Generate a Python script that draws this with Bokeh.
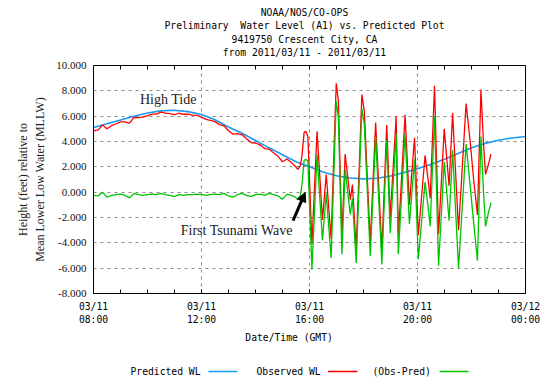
import numpy as np
from bokeh.plotting import figure
from bokeh.layouts import column
from bokeh.models import (Range1d, FixedTicker, Arrow, Label,
                          NormalHead, NumeralTickFormatter)
from bokeh.core.properties import value
from bokeh.embed import file_html
from bokeh.resources import INLINE

# ---------------- data ----------------
title_lines = ["NOAA/NOS/CO-OPS",
               "Preliminary \u00a0Water Level (A1) vs. Predicted Plot",
               "9419750 Crescent City, CA",
               "from 2011/03/11 - 2011/03/11"]

x_tick_hours = [8, 12, 16, 20, 24]
x_minor_hours = list(range(8, 25))
x_tick_labels = ["03/11\n08:00", "03/11\n12:00", "03/11\n16:00", "03/11\n20:00", "03/12\n00:00"]
y_ticks = [-8, -6, -4, -2, 0, 2, 4, 6, 8, 10]

# predicted water level, every 30 min from 08:00 to 24:00 (hours)
pred_hours = [8.0, 8.5, 9.0, 9.5, 10.0, 10.5, 11.0, 11.5, 12.0, 12.5, 13.0, 13.5,
              14.0, 14.5, 15.0, 15.5, 16.0, 16.5, 17.0, 17.5, 18.0, 18.5, 19.0,
              19.5, 20.0, 20.5, 21.0, 21.5, 22.0, 22.5, 23.0, 23.5, 24.0]
pred_wl = [5.10, 5.40, 5.70, 6.00, 6.25, 6.42, 6.47, 6.36, 6.13, 5.72, 5.15, 4.65,
           4.08, 3.50, 2.95, 2.40, 2.00, 1.60, 1.30, 1.12, 1.05, 1.10, 1.28,
           1.55, 1.85, 2.20, 2.60, 3.05, 3.50, 3.85, 4.10, 4.28, 4.40]

# observed water level and residual, 10-min steps 08:00 .. 15:20
calm_hours = [8 + i / 6 for i in range(45)]
calm_obs = [4.85, 4.90, 5.30, 5.00, 5.25, 5.40, 5.55, 5.55, 5.45, 5.90, 5.88, 5.92,
            6.05, 6.16, 6.16, 6.32, 6.24, 6.20, 6.12, 6.23, 6.15, 6.16, 6.08, 6.06,
            5.93, 5.75, 5.66, 5.57, 5.33, 5.24, 4.85, 4.58, 4.62, 4.55, 4.21, 3.92,
            3.88, 3.74, 3.44, 3.40, 3.12, 2.83, 2.40, 2.62, 2.33]
calm_res = [-0.25, -0.30, 0.00, -0.40, -0.25, -0.20, -0.15, -0.25, -0.45, -0.10,
            -0.20, -0.25, -0.20, -0.15, -0.20, -0.10, -0.20, -0.25, -0.35, -0.20,
            -0.25, -0.20, -0.20, -0.15, -0.20, -0.25, -0.20, -0.15, -0.20, -0.10,
            -0.30, -0.40, -0.20, -0.10, -0.25, -0.35, -0.20, -0.15, -0.25, -0.10,
            -0.20, -0.30, -0.55, -0.15, -0.25]

# tsunami section: turning points (hours, observed, obs-pred)
wave_hours = [15.47, 15.57, 15.66, 15.72, 15.80, 15.86, 15.94, 16.09, 16.28, 16.48,
              16.62, 16.80, 16.99, 17.07, 17.20, 17.32, 17.51, 17.59, 17.73, 17.94,
              18.03, 18.25, 18.45, 18.68, 18.86, 18.99, 19.21, 19.29, 19.54, 19.70,
              19.89, 20.03, 20.28, 20.40, 20.47, 20.63, 20.78, 20.99, 21.17, 21.30,
              21.52, 21.80, 21.95, 22.08, 22.22, 22.35, 22.44, 22.52, 22.63, 22.72]
wave_obs = [2.05, 1.80, 2.10, 2.85, 4.70, 4.80, 4.40, -4.10, 4.80, -2.20,
            1.40, -3.70, 8.60, 7.20, -3.60, 3.00, -0.60, 0.60, -4.50, 7.70,
            6.40, -4.00, 5.50, -4.60, 5.30, -2.00, 6.00, -3.50, 6.10, -1.00,
            4.30, -3.40, 2.90, 0.87, -0.50, 8.40, -3.30, 5.00, 0.50, 6.25,
            -3.00, 7.00, 4.00, 1.00, -1.80, 8.10, 4.00, 1.40, 2.20, 3.00]
wave_res = [-0.37, -0.60, -0.25, 0.55, 2.50, 2.60, 2.45, -6.10, 3.00, -3.80,
            -0.10, -5.20, 7.20, 5.90, -4.90, 1.80, -1.75, -0.50, -5.60, 6.60,
            5.35, -5.05, 4.40, -5.70, 4.10, -3.25, 4.60, -4.90, 4.60, -2.50,
            2.60, -5.30, 0.80, -1.30, -2.70, 6.00, -5.80, 2.40, -2.25, 3.30,
            -6.00, 3.80, 0.50, -2.40, -5.40, 4.40, 0.20, -2.70, -1.60, -0.85]

legend_names = ["Predicted WL", "Observed WL", "(Obs-Pred)"]
colors = ["#1a9af2", "#ff0000", "#00c400"]

obs_hours = calm_hours + wave_hours
obs_wl = calm_obs + wave_obs
res_wl = calm_res + wave_res

MONO = "DejaVu Sans Mono"
SERIF = "Liberation Serif"
W = 557
LEFT, RIGHT = 93, 32          # frame borders shared by all three panels
FX0, FX1 = LEFT, W - RIGHT    # frame x extent in page pixels


def blank(height):
    f = figure(width=W, height=height, x_range=Range1d(FX0, FX1),
               y_range=Range1d(height, 0), x_axis_type=None, y_axis_type=None,
               output_backend="svg", toolbar_location=None,
               min_border_left=LEFT, min_border_right=RIGHT,
               min_border_top=0, min_border_bottom=0)
    f.outline_line_color = None
    f.grid.visible = False
    f.background_fill_color = "white"
    f.border_fill_color = "white"
    return f


# ---------------- header (title lines) ----------------
head = blank(59)
head.text(x=[304] * 4, y=[12.2, 25.4, 38.6, 51.8], text=title_lines,
          text_align="center", text_baseline="middle", text_font=value(MONO),
          text_font_size="9.7px", text_color="black")

# ---------------- main plot ----------------
p = figure(width=W, height=294, x_range=Range1d(8, 24), y_range=Range1d(-8, 10),
           output_backend="svg", toolbar_location=None,
           min_border_left=LEFT, min_border_right=RIGHT, min_border_top=6,
           min_border_bottom=60)
p.background_fill_color = "white"
p.border_fill_color = "white"
p.outline_line_color = "black"
p.outline_line_width = 1

xa = p.xaxis[0]
xa.ticker = FixedTicker(ticks=x_tick_hours, minor_ticks=x_minor_hours)
xa.major_label_overrides = dict(zip(x_tick_hours, x_tick_labels))
xa.major_tick_in = 4
xa.major_tick_out = 0
xa.minor_tick_in = 4
xa.minor_tick_out = 0
xa.axis_line_color = None
xa.major_label_text_font = MONO
xa.major_label_text_font_size = "9.7px"
xa.major_label_text_color = "black"
xa.major_label_standoff = 7
xa.axis_label = "Date/Time (GMT)" + "\u00a0" * 7
xa.axis_label_text_font = MONO
xa.axis_label_text_font_style = "normal"
xa.axis_label_text_font_size = "9.7px"
xa.axis_label_text_color = "black"
xa.axis_label_standoff = 4

ya = p.yaxis[0]
ya.ticker = FixedTicker(ticks=y_ticks)
ya.formatter = NumeralTickFormatter(format="0.000")
ya.major_tick_in = 0
ya.major_tick_out = 0
ya.minor_tick_line_color = None
ya.axis_line_color = None
ya.major_label_text_font = SERIF
ya.major_label_text_font_size = "11px"
ya.major_label_text_color = "#111111"
ya.major_label_standoff = 7
ya.axis_label = "Height (feet) relative to\nMean Lower Low Water (MLLW)"
ya.axis_label_text_font = SERIF
ya.axis_label_text_font_style = "normal"
ya.axis_label_text_font_size = "12px"
ya.axis_label_text_color = "#222222"
ya.axis_label_standoff = 6

p.xgrid[0].ticker = FixedTicker(ticks=x_tick_hours[1:-1])
p.ygrid[0].ticker = FixedTicker(ticks=y_ticks[1:-1])
for g in (p.xgrid[0], p.ygrid[0]):
    g.grid_line_color = "#8c8c8c"
    g.grid_line_dash = "3 4"
    g.grid_line_width = 1

# hour tick marks along the top border (inside the frame)
tick_len = 4 * 18 / 228
p.segment(x0=x_minor_hours, y0=[10] * len(x_minor_hours), x1=x_minor_hours,
          y1=[10 - tick_len] * len(x_minor_hours), line_color="black", line_width=1)

p.line(pred_hours, pred_wl, line_color=colors[0], line_width=1.6)
p.line(obs_hours, obs_wl, line_color=colors[1], line_width=1.3)
p.line(obs_hours, res_wl, line_color=colors[2], line_width=1.3)

p.add_layout(Label(x=10.77, y=7.31, text="High Tide", text_align="center",
                   text_baseline="middle", text_font=SERIF, text_font_size="14px",
                   text_color="#222222"))
p.add_layout(Label(x=13.31, y=-3.03, text="First Tsunami Wave", text_align="center",
                   text_baseline="middle", text_font=SERIF, text_font_size="14px",
                   text_color="#222222"))
p.add_layout(Arrow(end=NormalHead(size=9, fill_color="black", line_color="black"),
                   x_start=15.39, y_start=-2.24, x_end=15.84, y_end=-0.03,
                   line_width=3, line_color="black"))

# ---------------- footer (legend) ----------------
foot = blank(31)
leg_y = 18
foot.text(x=[130, 256, 372], y=[leg_y] * 3, text=legend_names, text_align="left",
          text_baseline="middle", text_font=value(MONO), text_font_size="9.7px",
          text_color="black")
foot.segment(x0=[208, 327.5, 439], y0=[leg_y] * 3, x1=[237, 357, 468], y1=[leg_y] * 3,
             line_color=colors, line_width=1.6)

layout = column(head, p, foot, spacing=0)
open("out.html", "w").write(file_html(layout, INLINE))
